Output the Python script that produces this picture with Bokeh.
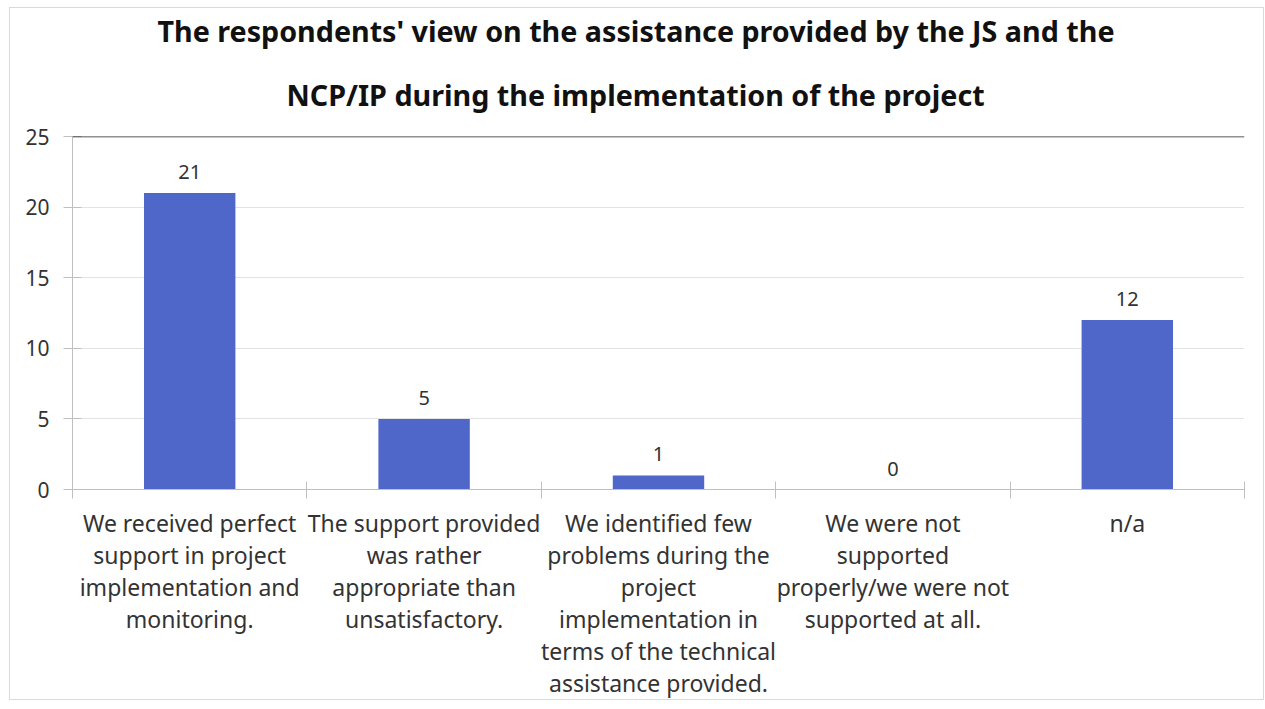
from bokeh.plotting import figure
from bokeh.models import (ColumnDataSource, Range1d, LinearAxis,
                          FixedTicker, Span, Title, LabelSet)
from bokeh.core.properties import value
from bokeh.embed import file_html
from bokeh.resources import INLINE

title_lines = ["The respondents' view on the assistance provided by the JS and the",
               "NCP/IP during the implementation of the project"]
categories = [
    "We received perfect\nsupport in project\nimplementation and\nmonitoring.",
    "The support provided\nwas rather\nappropriate than\nunsatisfactory.",
    "We identified few\nproblems during the\nproject\nimplementation in\nterms of the technical\nassistance provided.",
    "We were not\nsupported\nproperly/we were not\nsupported at all.",
    "n/a",
]
values = [21, 5, 1, 0, 12]
y_ticks = [0, 5, 10, 15, 20, 25]

FONT = "Noto Sans"
BAR = "#4f67c8"
TXT = "#333333"
AX = "#bfbfbf"

n = len(categories)
centers = [i + 0.5 for i in range(n)]
src = ColumnDataSource(dict(x=centers, val=values, lab=[str(v) for v in values]))

p = figure(x_range=Range1d(0, n), y_range=Range1d(y_ticks[0], y_ticks[-1]),
           width=1255, height=693, output_backend="svg", toolbar_location=None,
           x_axis_location=None, min_border_left=62, min_border_right=21,
           min_border_top=123, min_border_bottom=198)
p.outline_line_color = None
p.background_fill_color = "white"

title_standoffs = [0, 46]
title_offsets = [85, 214]
for t, so, off in reversed(list(zip(title_lines, title_standoffs, title_offsets))):
    p.add_layout(Title(text=t, align="left", offset=off, text_font=FONT,
                       text_font_size="28.7px", text_font_style="bold",
                       text_color="#111111", standoff=so), "above")

p.vbar(x="x", top="val", width=0.39, source=src, fill_color=BAR, line_color=None)

p.add_layout(LabelSet(x="x", y="val", text="lab", source=src, y_offset=14,
                      text_align="center", text_baseline="bottom", text_font=value(FONT),
                      text_font_size=value("20px"), text_color=TXT))

tick_axis = LinearAxis(ticker=FixedTicker(ticks=list(range(n + 1))),
                       major_label_overrides={i: "" for i in range(n + 1)},
                       major_label_standoff=0,
                       major_tick_in=8, major_tick_out=9, major_tick_line_color=AX,
                       minor_tick_line_color=None, axis_line_color=AX)
p.add_layout(tick_axis, "below")
label_axis = LinearAxis(ticker=FixedTicker(ticks=centers),
                        major_label_overrides={c: lab for c, lab in zip(centers, categories)},
                        axis_line_color=None, major_tick_line_color=None, minor_tick_line_color=None,
                        major_label_standoff=2, major_label_text_font=FONT,
                        major_label_text_font_size="23px", major_label_text_color=TXT,
                        major_label_text_line_height=1.0)
p.add_layout(label_axis, "below")

ya = p.yaxis[0]
ya.ticker = FixedTicker(ticks=y_ticks)
ya.axis_line_color = AX
ya.major_tick_line_color = AX
ya.major_tick_in = 9
ya.major_tick_out = 9
ya.minor_tick_line_color = None
ya.major_label_text_font = FONT
ya.major_label_text_font_size = "21px"
ya.major_label_text_color = TXT
ya.major_label_standoff = 14

p.xgrid.grid_line_color = None
p.ygrid.ticker = FixedTicker(ticks=y_ticks)
p.ygrid.grid_line_color = "#e3e3e3"
p.add_layout(Span(location=y_ticks[-1], dimension="width", line_color="#222222", line_width=1.5))

p.styles = {"border": "1px solid #d9d9d9", "margin-left": "9px", "margin-top": "7px"}

open("out.html", "w").write(file_html(p, INLINE))
